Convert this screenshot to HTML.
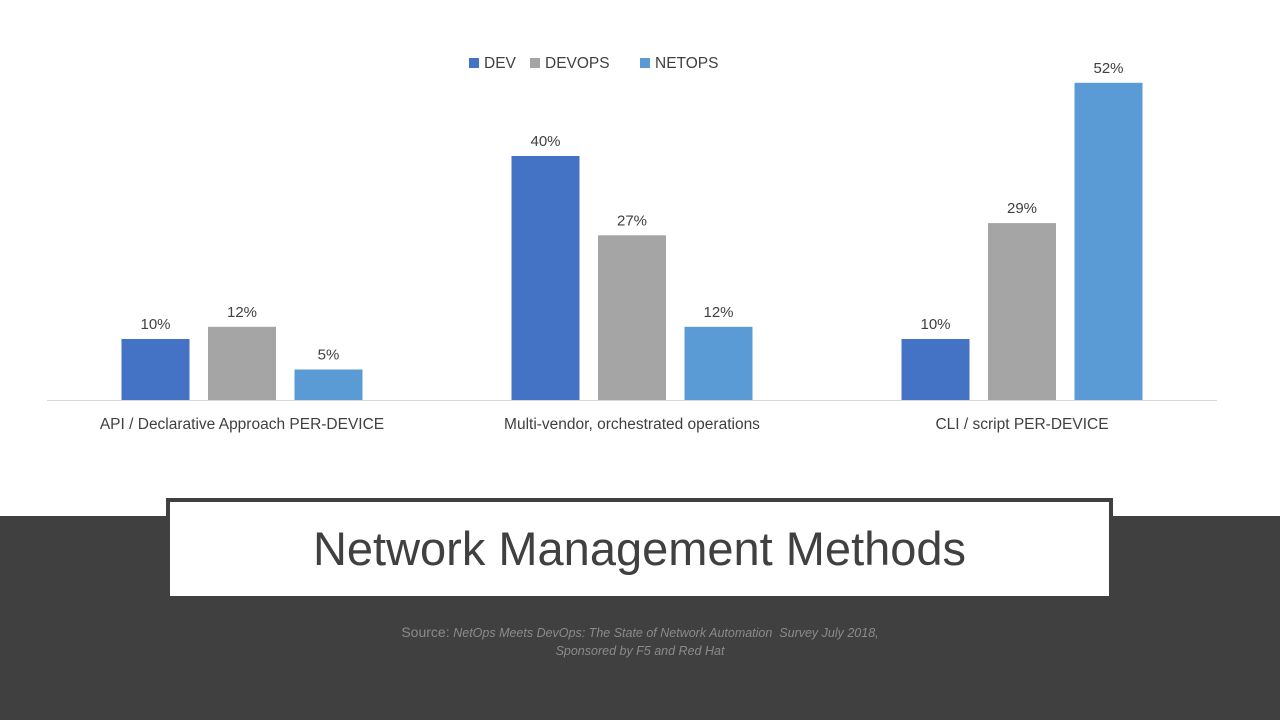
<!DOCTYPE html>
<html><head><meta charset="utf-8"><style>
body{margin:0;width:1280px;height:720px;overflow:hidden;background:#fff;font-family:"Liberation Sans",sans-serif;position:relative}
#band{position:absolute;left:0;top:516px;width:1280px;height:204px;background:#404040}
#titlebox{position:absolute;left:166px;top:498px;width:939px;height:94px;border:4px solid #404040;background:#fff;text-align:center;font-size:47px;line-height:94px;color:#404040}
#source{position:absolute;left:0;top:624px;width:1280px;text-align:center;color:#8a8a8a;font-size:13px;line-height:17px}
#source i{font-size:12.5px}
</style></head><body>
<svg id="chart" width="1280" height="500" style="position:absolute;left:0;top:0"></svg>
<div id="band"></div>
<div id="titlebox">Network Management Methods</div>
<div id="source"><span style="font-size:14px">Source:</span> <i>NetOps Meets DevOps: The State of Network Automation&nbsp; Survey July 2018,</i><br><i>Sponsored by F5 and Red Hat</i></div>
<script>
const categories=["API / Declarative Approach PER-DEVICE","Multi-vendor, orchestrated operations","CLI / script PER-DEVICE"];
const seriesNames=["DEV","DEVOPS","NETOPS"];
const devValues=[10,40,10];
const devopsValues=[12,27,29];
const netopsValues=[5,12,52];
const colors=["#4472C4","#A5A5A5","#5B9BD5"];
const series=[devValues,devopsValues,netopsValues];
const NS="http://www.w3.org/2000/svg";
const svg=document.getElementById('chart');
const x0=47,x1=1217,base=400,pxPer=6.1;
const groupW=(x1-x0)/categories.length;
const y=v=>base-v*pxPer;
const gx=i=>x0+groupW*(i+0.5);
function mk(t,a){const e=document.createElementNS(NS,t);for(const k in a)e.setAttribute(k,a[k]);svg.appendChild(e);return e;}
const ax=mk('line',{x1:x0,x2:x1,y1:base+0.5,y2:base+0.5,stroke:'#d9d9d9','stroke-width':1});


const bw=68,step=86.5;
categories.forEach((c,i)=>{
  series.forEach((s,j)=>{
    const cx=gx(i)+(j-1)*step;
    const r=mk('rect',{x:cx-bw/2,y:y(s[i]),width:bw,height:s[i]*pxPer,fill:colors[j]});
    
    
    const t=mk('text',{x:cx,y:y(s[i])-10,'text-anchor':'middle','font-size':15,fill:'#404040'});
    t.textContent=s[i]+'%';
    
    
  });
  const l=mk('text',{x:gx(i),y:429,'text-anchor':'middle','font-size':15.5,fill:'#404040'});
  l.textContent=c;
  
  
});
const legX=[469,530,640];
seriesNames.forEach((n,j)=>{
  const r=mk('rect',{x:legX[j],y:58,width:10,height:10,fill:colors[j]});
  
  
  const t=mk('text',{x:legX[j]+15,y:68,'font-size':15.5,fill:'#404040'});
  t.textContent=n;
  
  
});
</script>
</body></html>
